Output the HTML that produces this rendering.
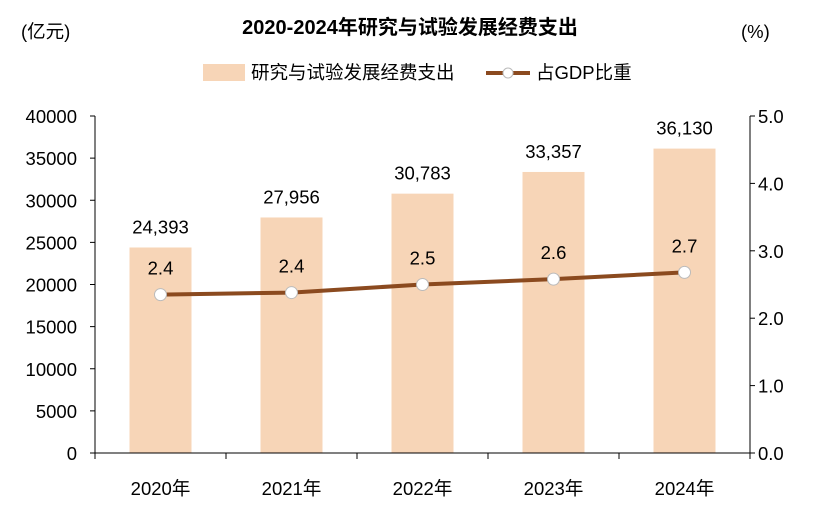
<!DOCTYPE html>
<html><head><meta charset="utf-8">
<style>
body{margin:0;background:#fff;}
svg text{font-family:"Liberation Sans","Noto Sans CJK SC",sans-serif;fill:#000;}
</style></head>
<body>
<svg id="chart" width="823" height="515" viewBox="0 0 823 515">
<text x="410" y="34" font-size="20" font-weight="bold" text-anchor="middle">2020-2024年研究与试验发展经费支出</text>
<text x="21" y="38" font-size="18.5">(亿元)</text>
<text x="741" y="38" font-size="18.5">(%)</text>
<g>
<rect x="203" y="64" width="42" height="17" fill="#f7d5b7"/>
<text x="251" y="79" font-size="18.5">研究与试验发展经费支出</text>
<line x1="486" y1="73" x2="530" y2="73" stroke="#8b4a1f" stroke-width="4"/>
<circle cx="508" cy="73" r="5" fill="#fff" stroke="#bbb"/>
<text x="536" y="79" font-size="18.5">占GDP比重</text>
</g>
<g id="plot"></g>
</svg>
<script>
const categories=["2020年","2021年","2022年","2023年","2024年"];
const spending=[24393,27956,30783,33357,36130];
const spendingLabels=["24,393","27,956","30,783","33,357","36,130"];
const gdpShare=[2.35,2.38,2.5,2.58,2.68];
const gdpShareLabels=["2.4","2.4","2.5","2.6","2.7"];
const leftTicks=[0,5000,10000,15000,20000,25000,30000,35000,40000];
const rightTicks=[0,1,2,3,4,5];

const NS="http://www.w3.org/2000/svg";
const g=document.getElementById("plot");
const X0=95,X1=750,Y0=453,Y1=116;
const band=(X1-X0)/categories.length;
const xc=i=>X0+band*(i+0.5);
const yL=v=>Y0-(v/40000)*(Y0-Y1);
const yR=v=>Y0-(v/5)*(Y0-Y1);
const FS=18.5;
function mk(tag,attrs,text){const e=document.createElementNS(NS,tag);for(const k in attrs)e.setAttribute(k,attrs[k]);if(text!==undefined)e.textContent=text;g.appendChild(e);return e;}

spending.forEach((v,i)=>{
  const r=mk("rect",{x:xc(i)-31,y:yL(v),width:62,height:Y0-yL(v),fill:"#f7d5b7"});
  
  
  const t=mk("text",{x:xc(i),y:yL(v)-14,"font-size":FS,"text-anchor":"middle"},spendingLabels[i]);
  
  
});
let a=mk("line",{x1:X0,y1:Y1,x2:X0,y2:Y0,stroke:"#000","stroke-width":1});


a=mk("line",{x1:X1,y1:Y1,x2:X1,y2:Y0,stroke:"#000","stroke-width":1});


a=mk("line",{x1:X0,y1:Y0,x2:X1,y2:Y0,stroke:"#000","stroke-width":1});


leftTicks.forEach(v=>{
  mk("line",{x1:X0-5,y1:yL(v),x2:X0,y2:yL(v),stroke:"#000"});
  const t=mk("text",{x:77,y:yL(v)+7,"font-size":FS,"text-anchor":"end"},String(v));
  
  
});
rightTicks.forEach(v=>{
  mk("line",{x1:X1,y1:yR(v),x2:X1+5,y2:yR(v),stroke:"#000"});
  const t=mk("text",{x:758,y:yR(v)+7,"font-size":FS},v.toFixed(1));
  
  
});
for(let i=0;i<=categories.length;i++){mk("line",{x1:X0+band*i,y1:Y0,x2:X0+band*i,y2:Y0+6,stroke:"#000"});}
categories.forEach((c,i)=>{
  const t=mk("text",{x:xc(i),y:495,"font-size":FS,"text-anchor":"middle"},c);
  
  
});
const pts=gdpShare.map((v,i)=>xc(i)+","+yR(v)).join(" ");
const pl=mk("polyline",{points:pts,fill:"none",stroke:"#8b4a1f","stroke-width":4});


gdpShare.forEach((v,i)=>{
  const c=mk("circle",{cx:xc(i),cy:yR(v),r:6,fill:"#fff",stroke:"#bbb","stroke-width":1});
  
  
  const t=mk("text",{x:xc(i),y:yR(v)-20,"font-size":FS,"text-anchor":"middle"},gdpShareLabels[i]);
  
  
});
</script>
</body></html>
